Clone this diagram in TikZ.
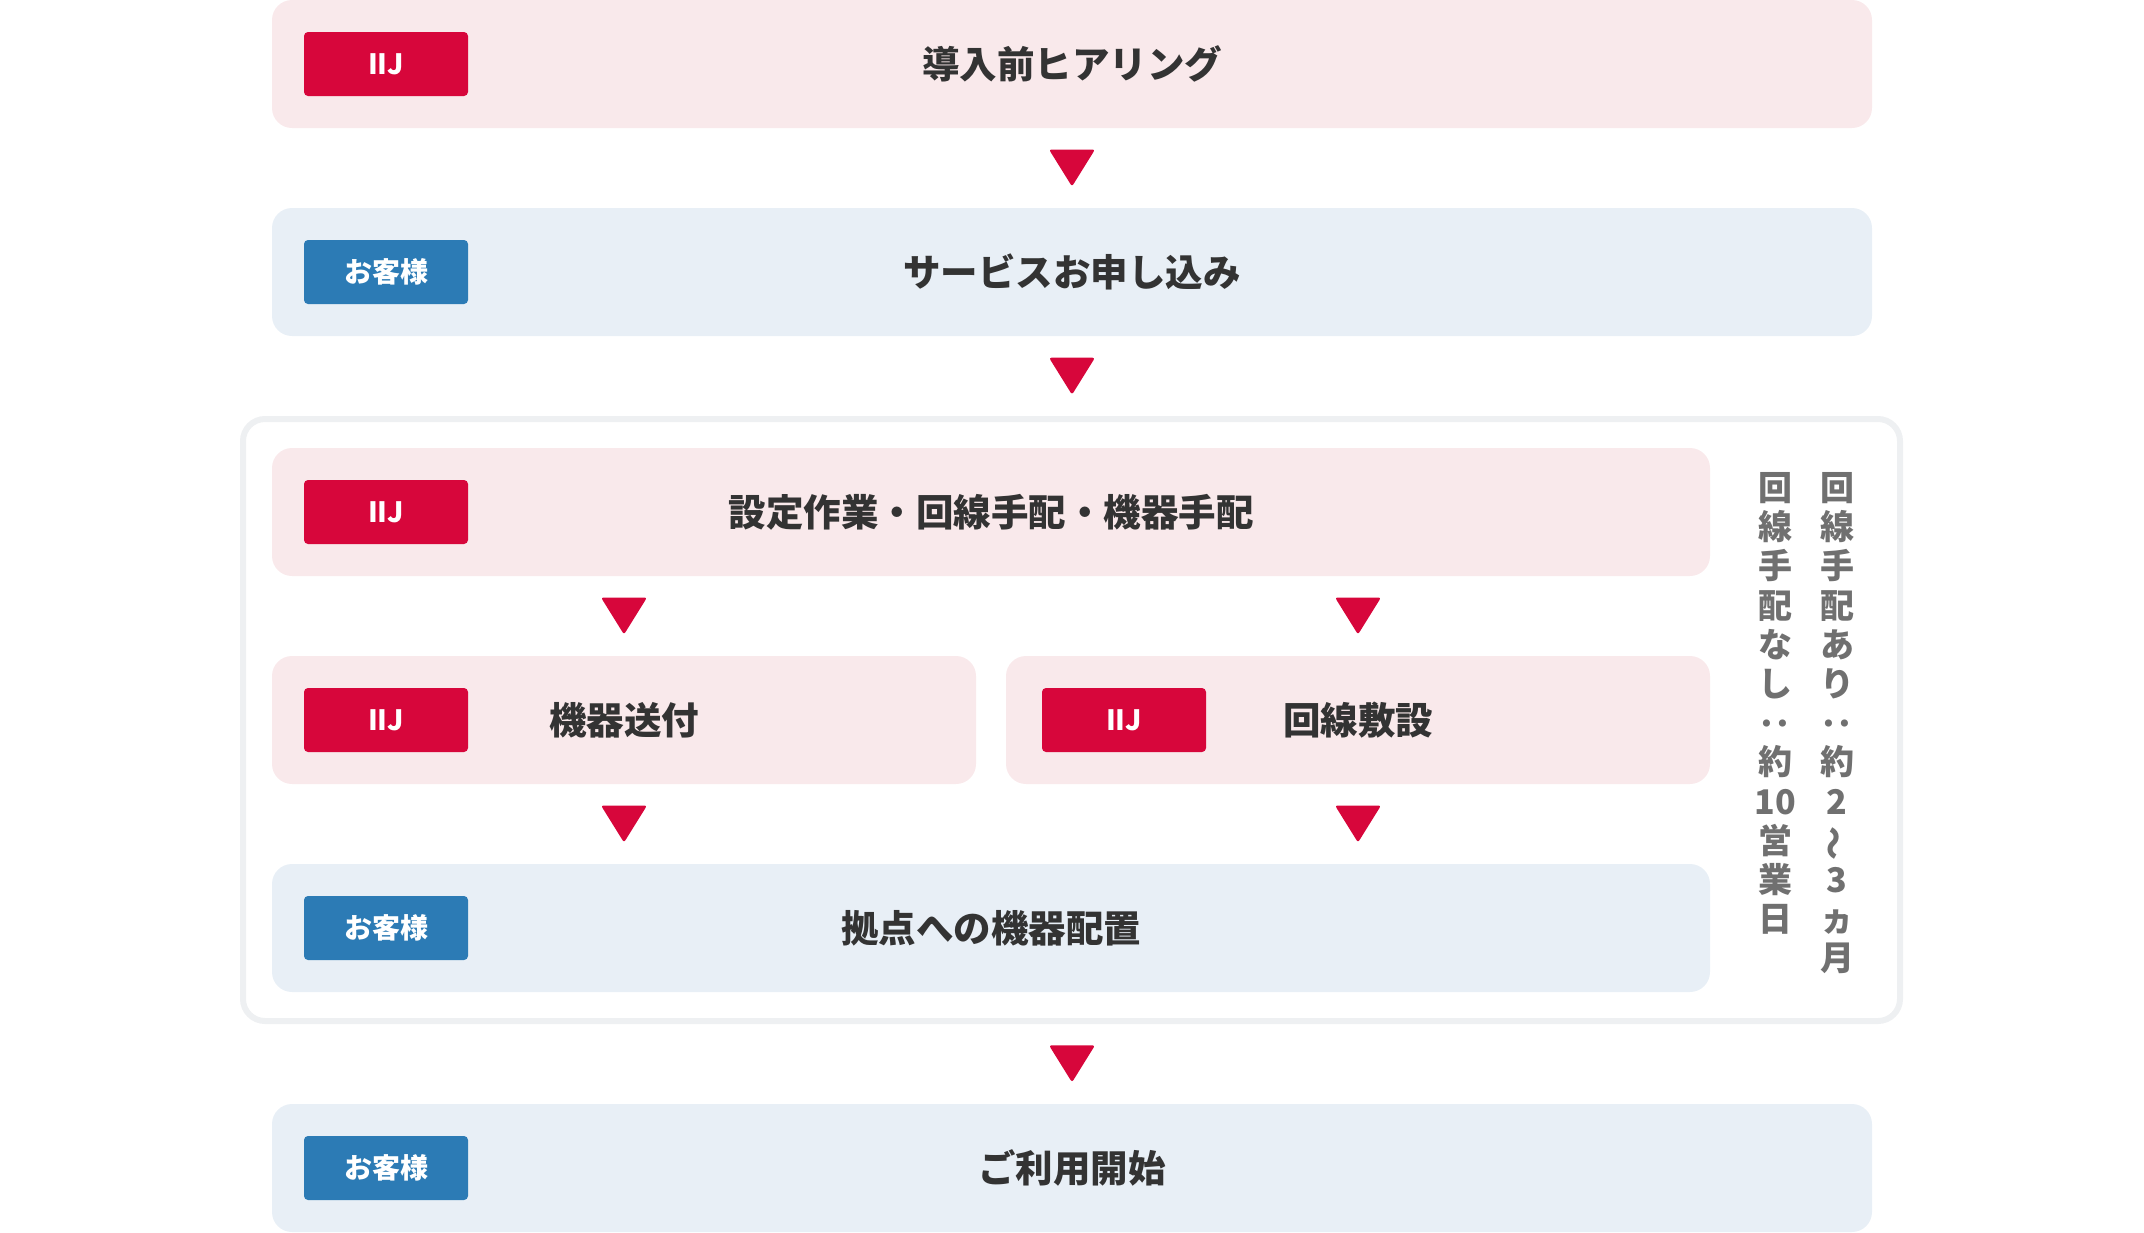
\documentclass[tikz,border=0pt]{standalone}
\usepackage{fontspec}
\usepackage{graphicx}
\setmainfont{Noto Sans CJK JP}
\usetikzlibrary{positioning,calc}
\definecolor{iijred}{RGB}{215,6,59}
\definecolor{pinkbg}{RGB}{249,233,235}
\definecolor{custblue}{RGB}{44,123,181}
\definecolor{bluebg}{RGB}{232,239,246}
\definecolor{steptext}{RGB}{51,51,51}
\definecolor{notegray}{RGB}{112,112,112}
\definecolor{framegray}{RGB}{238,240,242}
\tikzset{every picture/.style={line width=0.75pt}}
\newcommand{\tatecolon}{\rotatebox[origin=c]{90}{：}}
\newcommand{\tatewave}{\rotatebox[origin=c]{90}{～}}

\begin{document}
\begin{tikzpicture}[x=1pt,y=1pt,yscale=-1,
  stepbox/.style={rounded corners=20pt, inner sep=0pt, minimum height=128pt, text=steptext, font=\fontsize{37.5}{40}\selectfont\bfseries},
  iijstep/.style={stepbox, fill=pinkbg},
  custstep/.style={stepbox, fill=bluebg},
  tag/.style={rounded corners=4pt, inner sep=0pt, minimum width=164pt, minimum height=64pt, text=white, font=\fontsize{28}{30}\selectfont\bfseries},
  iijtag/.style={tag, fill=iijred},
  custtag/.style={tag, fill=custblue},
  note/.style={text=notegray, align=center, inner sep=0pt, anchor=north, font=\fontsize{34}{39.2}\selectfont\bfseries},
  downtri/.pic={\fill[iijred, rounded corners=2.5pt] (-23,18.5) -- (23,18.5) -- (0,-18.5) -- cycle;}
]
\useasboundingbox (0,0) rectangle (2144,1232);

% frame round the work steps
\draw[framegray, line width=6pt, rounded corners=22pt] (243,419) rectangle (1900,1021);
\coordinate (frametop) at (1072,416);
\coordinate (framebottom) at (1072,1024);

% steps
\node[iijstep, minimum width=1600pt] (hearing) at (1072,64) {導入前ヒアリング};
\node[custstep, minimum width=1600pt] (apply) at (1072,272) {サービスお申し込み};
\node[iijstep, minimum width=1438pt] (setup) at (991,512) {設定作業・回線手配・機器手配};
\node[iijstep, minimum width=704pt] (ship) at (624,720) {機器送付};
\node[iijstep, minimum width=704pt] (line) at (1358,720) {回線敷設};
\node[custstep, minimum width=1438pt] (place) at (991,928) {拠点への機器配置};
\node[custstep, minimum width=1600pt] (start) at (1072,1168) {ご利用開始};

% who does it
\node[iijtag, right=32pt of hearing.west] (hearingtag) {IIJ};
\node[custtag, right=32pt of apply.west] (applytag) {お客様};
\node[iijtag, right=32pt of setup.west] (setuptag) {IIJ};
\node[iijtag, right=32pt of ship.west] (shiptag) {IIJ};
\node[iijtag, right=36pt of line.west] (linetag) {IIJ};
\node[custtag, right=32pt of place.west] (placetag) {お客様};
\node[custtag, right=32pt of start.west] (starttag) {お客様};

% arrows
\pic at ($(hearing.south)!0.5!(apply.north)$) {downtri};
\pic at ($(apply.south)!0.5!(frametop)$) {downtri};
\pic at ($(setup.south -| ship.north)!0.5!(ship.north)$) {downtri};
\pic at ($(setup.south -| line.north)!0.5!(line.north)$) {downtri};
\pic at ($(ship.south)!0.5!(ship.south |- place.north)$) {downtri};
\pic at ($(line.south)!0.5!(line.south |- place.north)$) {downtri};
\pic at ($(framebottom)!0.5!(start.north)$) {downtri};

% lead times
\node[note] (withline) at (1837,472) {回\\線\\手\\配\\あ\\り\\\tatecolon\\約\\2\\\tatewave\\3\\ヵ\\月};
\node[note] (noline) at (1775,472) {回\\線\\手\\配\\な\\し\\\tatecolon\\約\\10\\営\\業\\日};

\end{tikzpicture}
\end{document}
